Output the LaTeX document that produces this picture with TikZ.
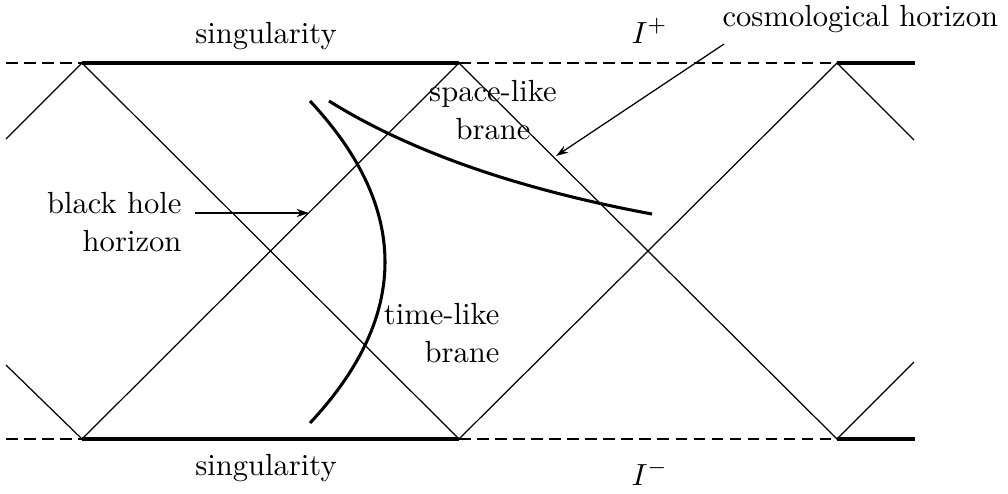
\documentclass[tikz,border=0pt]{standalone}
\usepackage{tikz}
\usetikzlibrary{arrows.meta}
\tikzset{
  horizon/.style={line width=0.4pt},
  sing/.style={line width=1.3pt},
  scri/.style={line width=0.6pt, dash pattern=on 3.8pt off 2.1pt},
  brane/.style={line width=1pt},
  arrow/.style={-{Stealth[length=4pt,width=2.6pt]}, line width=0.4pt},
  lbl/.style={inner sep=0pt, font=\fontsize{10}{12.4}\selectfont}
}

\begin{document}
\begin{tikzpicture}[x=0.327pt, y=-0.327pt]
  \useasboundingbox (0,0) rectangle (1008,493);
  % corners of the diagram
  \coordinate (tl) at (82,63);
  \coordinate (tm) at (459,63);
  \coordinate (tr) at (837,63);
  \coordinate (bl) at (82,439);
  \coordinate (bm) at (459,439);
  \coordinate (br) at (837,439);
  % cut ends
  \coordinate (tle) at (6,63);
  \coordinate (tre) at (915,63);
  \coordinate (ble) at (6,439);
  \coordinate (bre) at (915,439);
  \coordinate (le1) at (6,139);
  \coordinate (le2) at (6,365);
  \coordinate (re1) at (914,140);
  \coordinate (re2) at (914,362);

  % singularities and infinities
  \draw[scri] (tle) -- (tl);
  \draw[sing] (tl) -- (tm);
  \draw[scri] (tm) -- (tr);
  \draw[sing] (tr) -- (tre);
  \draw[scri] (ble) -- (bl);
  \draw[sing] (bl) -- (bm);
  \draw[scri] (bm) -- (br);
  \draw[sing] (br) -- (bre);

  % horizons
  \draw[horizon] (le1) -- (tl) -- (bm) -- (tr) -- (re1);
  \draw[horizon] (le2) -- (bl) -- (tm) -- (br) -- (re2);

  % branes
  \coordinate (tb1) at (310,101);
  \coordinate (tb2) at (310,423);
  \coordinate (sb1) at (329,101);
  \coordinate (sb2) at (652,214);
  \draw[brane] (tb1) .. controls (410,208) and (410,316) .. (tb2);
  \draw[brane] (sb1) .. controls (409,151) and (517,189) .. (sb2);

  % labels
  \node[lbl, anchor=base] (singtop) at (266,43) {singularity};
  \node[lbl, anchor=base] (singbot) at (266,475) {singularity};
  \node[lbl, anchor=base west] (scriplus) at (631,43) {$I^+$};
  \node[lbl, anchor=base west] (scriminus) at (631,485) {$I^-$};
  \node[lbl, anchor=base west] (cosmo) at (722,26) {cosmological horizon};
  \node[lbl, anchor=east, align=right] (bhlabel) at (182,222.5) {black hole\\horizon};
  \node[lbl, anchor=east, align=right] (tlabel) at (500,333) {time-like\\brane};
  \node[lbl, align=center] (slabel) at (493,110) {space-like\\brane};

  % pointers
  \coordinate (bhtail) at (195,213);
  \coordinate (bhtip) at (309,213);
  \coordinate (cosmotail) at (724,44);
  \coordinate (cosmotip) at (556,156);
  \draw[arrow, line width=0.6pt] (bhtail) -- (bhtip);
  \draw[arrow] (cosmotail) -- (cosmotip);
\end{tikzpicture}
\end{document}
